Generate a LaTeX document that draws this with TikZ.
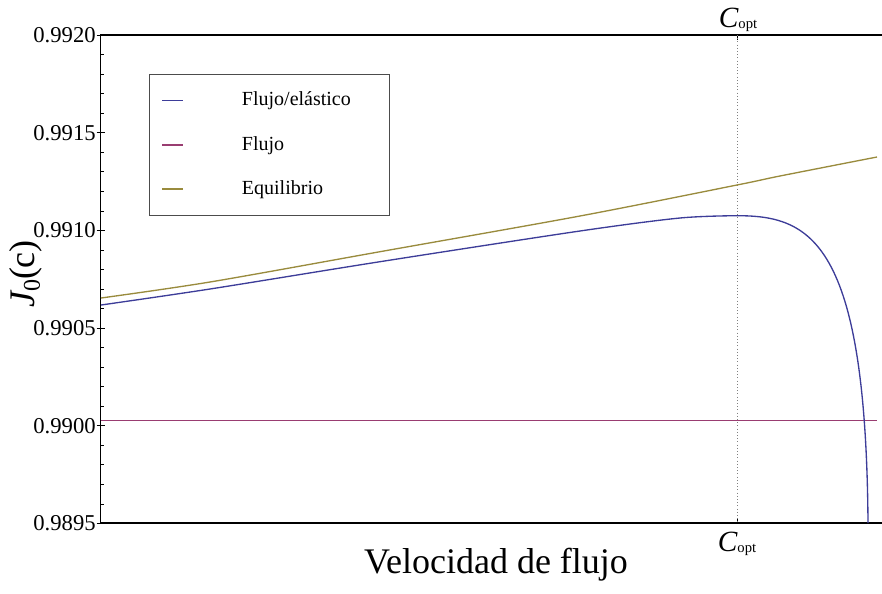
\documentclass[tikz,border=0pt]{standalone}
\usepackage{fontspec}
\setmainfont{Liberation Serif}
\usepackage{xcolor}
\usepackage{tikz}

\definecolor{flujoelas}{rgb}{0.24,0.24,0.6}
\definecolor{flujo}{rgb}{0.6,0.24,0.442}
\definecolor{equil}{rgb}{0.6,0.547,0.24}

\newcommand{\Coptlab}{{\fontsize{22}{22}\selectfont\itshape C}\raisebox{-1pt}{\fontsize{11}{11}\selectfont opt}}

\begin{document}
\begin{tikzpicture}[x=0.75pt,y=-0.75pt,
    frameline/.style={line width=1.1pt,black},
    curve/.style={line width=1pt},
    ticklab/.style={anchor=east,inner sep=0pt,font=\fontsize{17}{17}\selectfont},
    leglab/.style={anchor=base west,inner sep=0pt,font=\fontsize{15}{15}\selectfont}]
\useasboundingbox (0,0) rectangle (882,593);

% frame and ticks
\draw [frameline] (882,35) -- (100.5,35) -- (100.5,523) -- (882,523);
\foreach \k in {1,...,24}
    \draw [thin] (100.5,{35+\k*19.532}) -- ++(3.5,0);
\foreach \v [count=\i from 0] in {0.9920,0.9915,0.9910,0.9905,0.9900,0.9895} {
    \draw [thin] (96.5,{35+\i*97.66}) -- ++(8,0);
    \node [ticklab] (T\i) at (96,{35+\i*97.66}) {\v};
}
\draw [thin] (737,35) -- (737,40);
\draw [thin] (737,523) -- (737,518);
\draw [gray,dotted] (737,35) -- (737,523);

% curves
\draw [curve,flujo] (101,420.7) -- (877,420.7);
\draw [curve,equil] plot [smooth] coordinates {(101,298) (210,282) (380,251.7)
    (580,216) (737,185) (780,176) (877,157)};
\draw [curve,flujoelas] plot [smooth] coordinates {(101,305) (210,289) (380,261.7)
    (580,231) (680,218) (737,215.7)}
    .. controls (810,215.7) and (866,240) .. (868,523);

% legend
\draw [black!70,thin] (149.3,74) rectangle (389,215.7);
\draw [curve,flujoelas] (162,100.7) -- (183,100.7);
\draw [curve,flujo] (162,145) -- (183,145);
\draw [curve,equil] (162,189) -- (183,189);
\node [leglab] (L1) at (241.7,105.7) {Flujo/elástico};
\node [leglab] (L2) at (241.7,150) {Flujo};
\node [leglab] (L3) at (241.7,194) {Equilibrio};

% labels
\node [anchor=base,inner sep=0pt] (Ctop) at (738,27) {\Coptlab};
\node [anchor=base,inner sep=0pt] (Cbot) at (737,551) {\Coptlab};
\node [anchor=base,inner sep=0pt,font=\fontsize{27}{27}\selectfont] (X) at (496,573) {Velocidad de flujo};
\node [rotate=90,inner sep=0pt,font=\fontsize{27}{27}\selectfont] (Y) at (26,274)
    {{\itshape J}\raisebox{-4pt}{\fontsize{18}{18}\selectfont 0}(c)};
\end{tikzpicture}
\end{document}
